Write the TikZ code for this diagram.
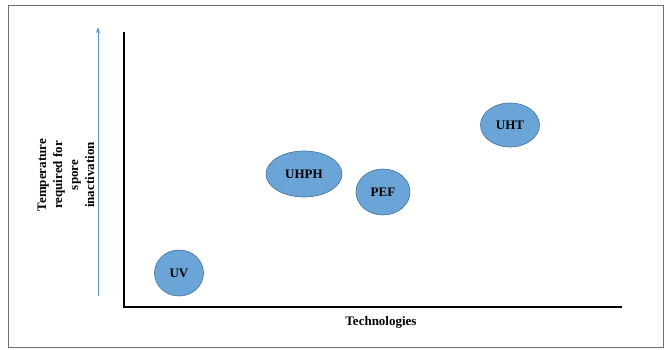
\documentclass[tikz,border=0pt]{standalone}
\usepackage{fontspec}
\setmainfont{Liberation Serif}
\usetikzlibrary{shapes.geometric,arrows.meta}
\definecolor{techfill}{RGB}{107,165,215}
\definecolor{techline}{RGB}{65,113,156}
\definecolor{trendblue}{RGB}{91,148,210}
\definecolor{framegray}{RGB}{110,110,110}
\begin{document}
\begin{tikzpicture}[x=1pt,y=-1pt,
  tech/.style={ellipse,draw=techline,fill=techfill,line width=0.6pt,inner sep=0pt,
    font=\fontsize{13}{16}\selectfont\bfseries},
  axislabel/.style={font=\fontsize{13}{16}\selectfont\bfseries,align=center,inner sep=0pt}]
  \useasboundingbox (0,0) rectangle (669,349);
  % outer frame
  \draw[framegray,line width=0.9pt] (8,5) rectangle (663,347);
  % axes
  \coordinate (ytop) at (124,32);
  \coordinate (origin) at (124,307);
  \coordinate (xend) at (622,307);
  \draw[black,line width=1.5pt] (ytop) -- (origin) -- (xend);
  % trend arrow
  \coordinate (abot) at (98,296);
  \coordinate (atop) at (98,27);
  \draw[trendblue,line width=1pt,-{Stealth[length=6pt,width=4pt]}] (abot) -- (atop);
  % axis titles
  \node[axislabel,rotate=90] (ylab) at (66,175) {Temperature\\required for\\spore\\inactivation};
  \node[axislabel] (xlab) at (381,322) {Technologies};
  % technologies
  \node[tech,minimum width=49pt,minimum height=46pt] (uv) at (179,273) {UV};
  \node[tech,minimum width=76pt,minimum height=46pt] (uhph) at (304,174) {UHPH};
  \node[tech,minimum width=54pt,minimum height=46pt] (pef) at (383,192) {PEF};
  \node[tech,minimum width=59pt,minimum height=44pt] (uht) at (510,125) {UHT};
\end{tikzpicture}
\end{document}
